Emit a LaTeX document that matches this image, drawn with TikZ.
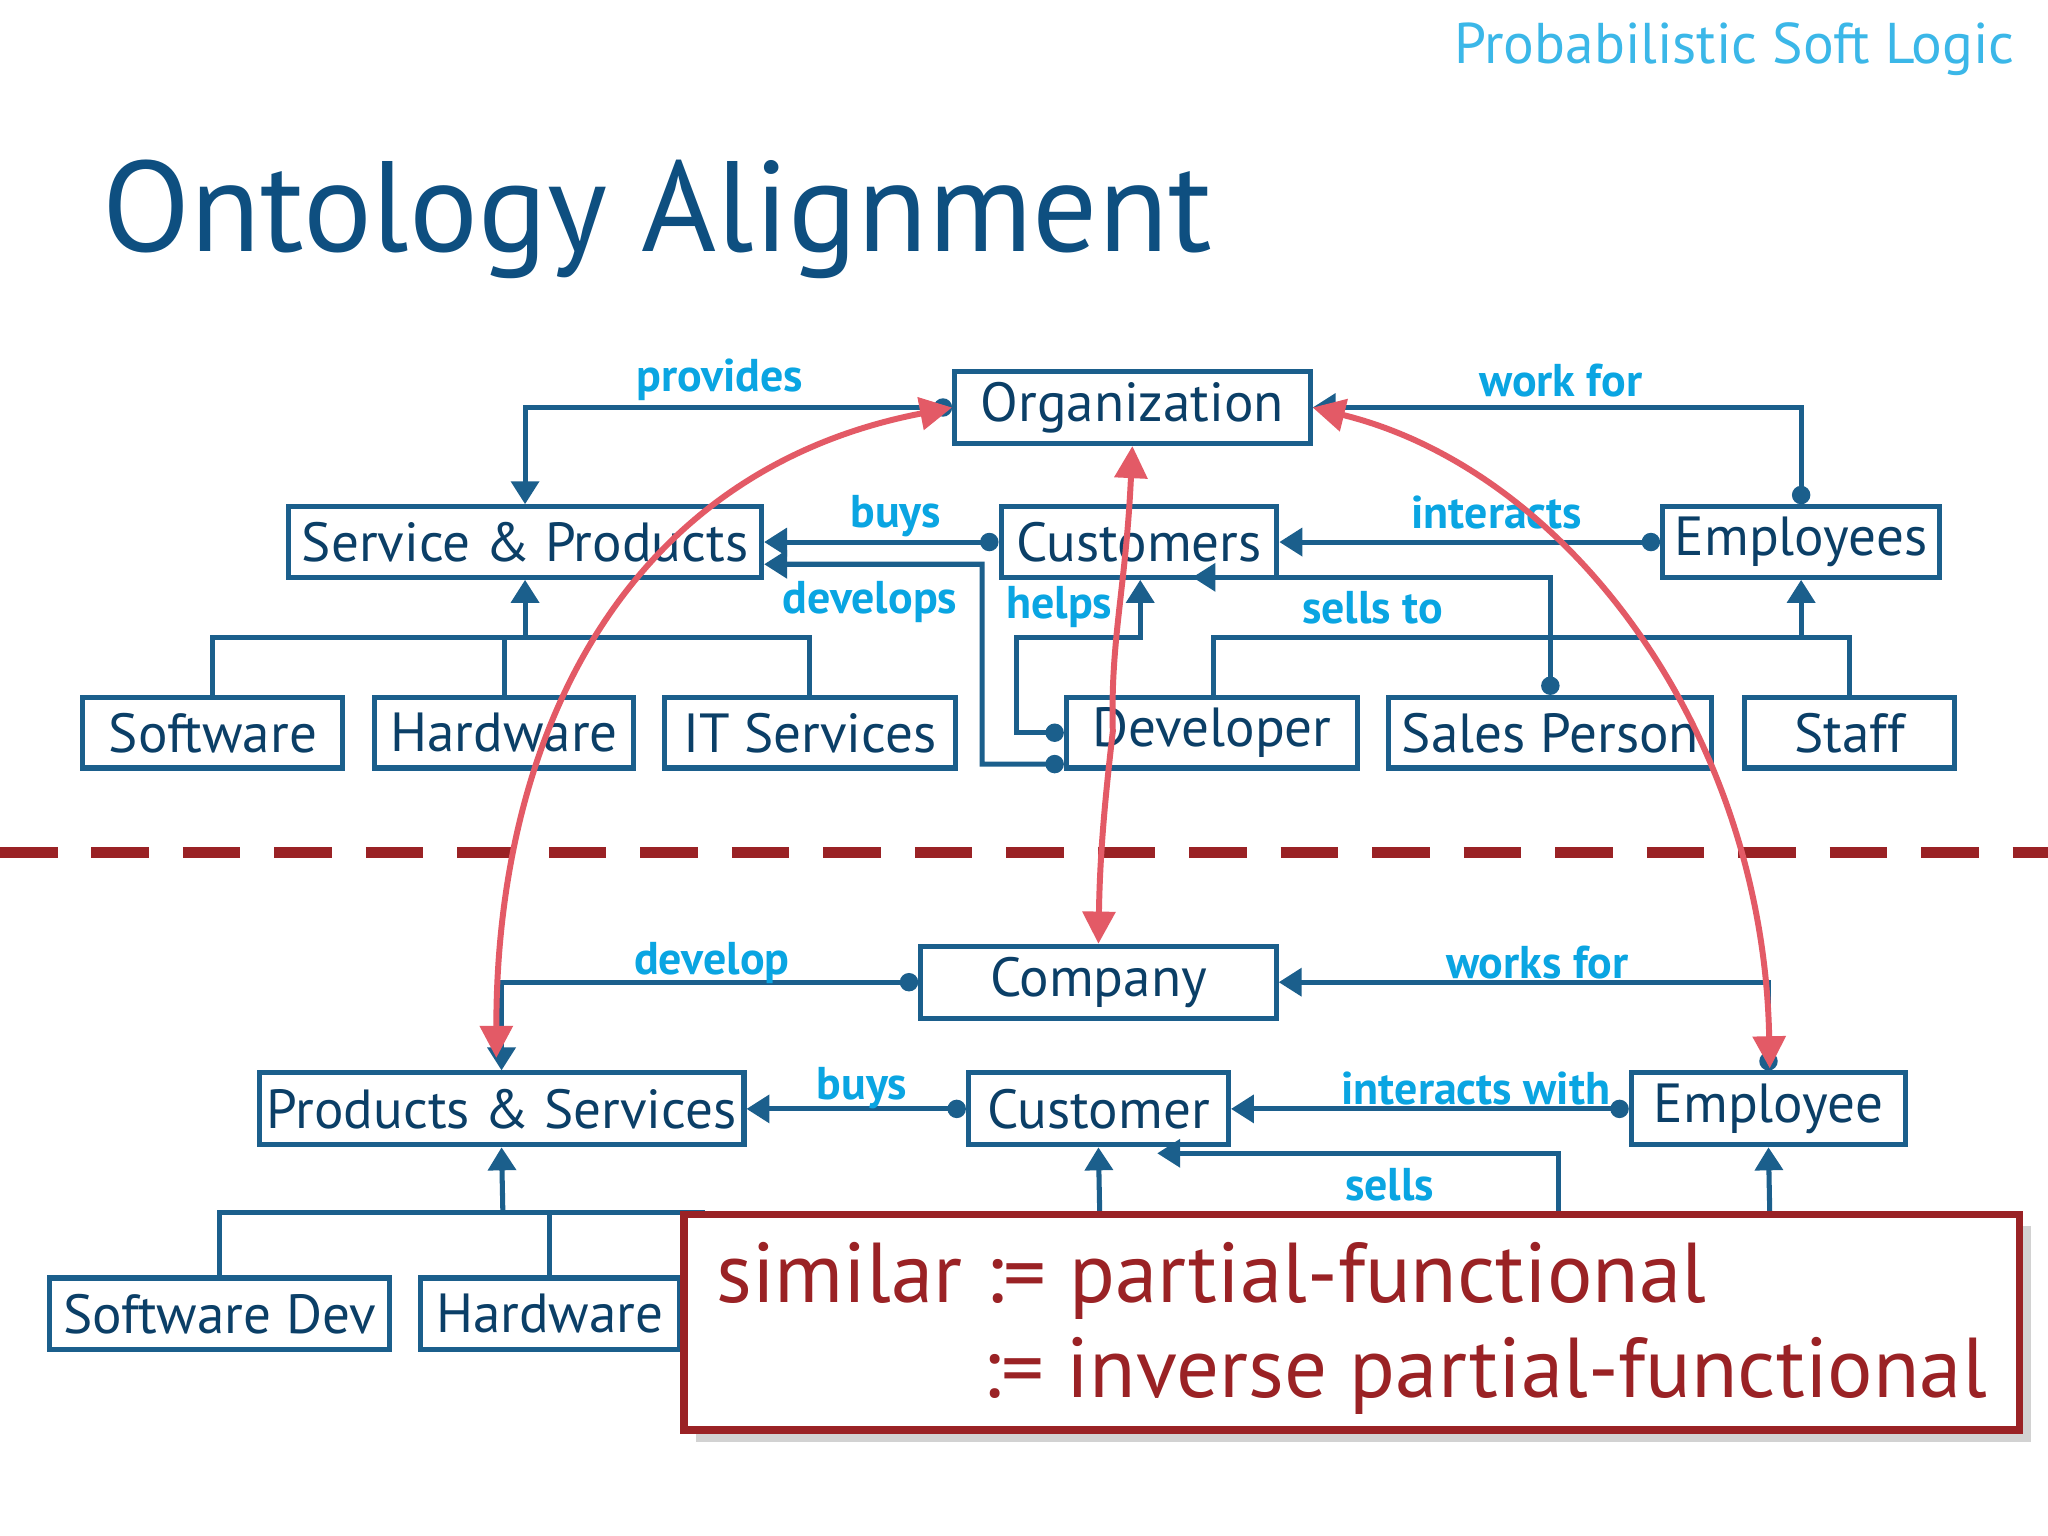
\documentclass[tikz,border=0pt]{standalone}
\usepackage{fontspec}
\setmainfont{PT Sans}
\usetikzlibrary{arrows.meta, shadows}

\definecolor{linkblue}{HTML}{1B5F8C}
\definecolor{labelcyan}{HTML}{0AA5E2}
\definecolor{titleblue}{HTML}{0E4F80}
\definecolor{curvered}{HTML}{E35A66}
\definecolor{boxred}{HTML}{9A2225}

\tikzset{
    concept/.style={draw=linkblue, line width=1.1pt, rectangle, inner sep=0pt,
        font=\fontsize{12}{14}\selectfont, text=titleblue!80!black},
    relation/.style={linkblue, line width=1.1pt, {Circle[length=4pt]}-{Triangle[length=5pt,width=6pt]}},
    branch/.style={linkblue, line width=1.1pt, -{Triangle[length=5pt,width=6pt]}},
    stem/.style={linkblue, line width=1.1pt},
    rellabel/.style={text=labelcyan, font=\fontsize{10}{12}\selectfont\bfseries},
    match/.style={curvered, line width=1.3pt, {Triangle[length=7pt,width=7pt]}-{Triangle[length=7pt,width=7pt]}}
}

\begin{document}
\begin{tikzpicture}[x=0.01cm, y=-0.01cm]
    \useasboundingbox (0,0) rectangle (1568,1176);
    \fill[white] (0,0) rectangle (1568,1176);

    % headings
    \node[anchor=east, text=labelcyan!80!white, font=\fontsize{12.5}{14}\selectfont] (psl) at (1555,38) {Probabilistic Soft Logic};
    \node[anchor=west, text=titleblue, font=\fontsize{28}{32}\selectfont] (title) at (66,168) {Ontology Alignment};

    % upper ontology
    \node[concept, minimum width=2.72cm, minimum height=0.55cm] (org) at (867,312) {Organization};
    \node[concept, minimum width=3.62cm, minimum height=0.54cm] (servprod) at (402,415) {Service \& Products};
    \node[concept, minimum width=2.11cm, minimum height=0.54cm] (customers) at (872,415) {Customers};
    \node[concept, minimum width=2.12cm, minimum height=0.54cm] (employees) at (1379,415) {Employees};
    \node[concept, minimum width=1.99cm, minimum height=0.54cm] (software) at (163,561) {Software};
    \node[concept, minimum width=1.98cm, minimum height=0.54cm] (hardware) at (386,561) {Hardware};
    \node[concept, minimum width=2.23cm, minimum height=0.54cm] (itserv) at (620,561) {IT Services};
    \node[concept, minimum width=2.23cm, minimum height=0.54cm] (developer) at (928,561) {Developer};
    \node[concept, minimum width=2.47cm, minimum height=0.54cm] (sales) at (1187,561) {Sales Person};
    \node[concept, minimum width=1.61cm, minimum height=0.54cm] (staff) at (1416,561) {Staff};

    \draw[relation] (org.west) -| (servprod.north);
    \draw[relation] (employees.north) |- (org.east);
    \draw[relation] (customers.west) -- (servprod.east);
    \draw[relation] (employees.west) -- (customers.east);
    \draw[relation] ([yshift=-0.24cm]developer.west) -- (752,585) |- ([yshift=-0.17cm]servprod.east);
    \draw[relation] (developer.west) -- (778,561) |- (873,488) -- ([xshift=0.01cm]customers.south);
    \draw[relation] (sales.north) -- (1187,442) -- (913,442);
    \coordinate (sptree) at (402,488);
    \draw[branch] (sptree) -- (servprod.south);
    \draw[stem] (software.north) |- (itserv.north |- sptree) -- (itserv.north);
    \draw[stem] (hardware.north) -- (hardware.north |- sptree);
    \coordinate (emtree) at (1379,488);
    \draw[branch] (emtree) -- (employees.south);
    \draw[stem] (developer.north -| 929,0) |- (staff.north |- emtree) -- (staff.north);

    \node[rellabel] (lprov) at (551,291) {provides};
    \node[rellabel] (lwork) at (1195,291) {work for};
    \node[rellabel] (lbuys) at (686,395) {buys};
    \node[rellabel] (linter) at (1146,392) {interacts};
    \node[rellabel] (ldev) at (666,461) {develops};
    \node[rellabel] (lhelp) at (811,465) {helps};
    \node[rellabel] (lsell) at (1051,465) {sells to};

    % separator
    \draw[boxred, line width=2.4pt, dash pattern=on 0.44cm off 0.26cm] (0,653) -- (1568,653);

    % lower ontology
    \node[concept, minimum width=2.72cm, minimum height=0.55cm] (company) at (841,752) {Company};
    \node[concept, minimum width=3.71cm, minimum height=0.55cm] (prodserv) at (384,849) {Products \& Services};
    \node[concept, minimum width=1.99cm, minimum height=0.55cm] (customer) at (841,849) {Customer};
    \node[concept, minimum width=2.10cm, minimum height=0.55cm] (employee) at (1354,849) {Employee};
    \node[concept, minimum width=2.60cm, minimum height=0.55cm] (softdev) at (168,1006) {Software Dev};
    \node[concept, minimum width=1.98cm, minimum height=0.55cm] (hardware2) at (421,1006) {Hardware};

    \draw[relation] (company.west) -| (prodserv.north);
    \draw[relation] (employee.north) |- (company.east);
    \draw[relation] (customer.west) -- (prodserv.east);
    \draw[relation] (employee.west) -- (customer.east);
    \coordinate (sellsend) at (1193,930);
    \draw[branch] (sellsend) |- (886,883);
    \coordinate (custfoot) at (842,930);
    \draw[branch] (custfoot) -- (customer.south);
    \coordinate (empfoot) at (1355,930);
    \draw[branch] (empfoot) -- (employee.south);
    \coordinate (pstree) at (385,928);
    \draw[branch] (pstree) -- (prodserv.south);
    \draw[stem] (softdev.north) |- (540,928);
    \draw[stem] (hardware2.north) -- (hardware2.north |- pstree);

    \node[rellabel] (ldevelop) at (545,737) {develop};
    \node[rellabel] (lworks) at (1177,737) {works for};
    \node[rellabel] (lbuys2) at (660,833) {buys};
    \node[rellabel] (linter2) at (1130,833) {interacts with};
    \node[rellabel] (lsells) at (1064,907) {sells};

    % alignment arcs
    \draw[match] (org.west) .. controls (480,360) and (380,560) .. (380,810);
    \draw[match] (org.south) .. controls (862,450) and (850,490) .. (852,560)
        .. controls (845,620) and (842,660) .. (company.north);
    \draw[match] (org.east) .. controls (1200,360) and (1350,560) .. (1355,818);

    % rule box
    \node[draw=boxred, line width=1.6pt, fill=white, drop shadow={opacity=0.35},
        minimum width=10.22cm, minimum height=1.65cm, anchor=north west] (rule) at (521,927) {};
    \node[anchor=base west, text=boxred, font=\fontsize{18.5}{21}\selectfont] (rule1) at (536,997) {similar := partial-functional};
    \node[anchor=base west, text=boxred, font=\fontsize{18.5}{21}\selectfont] (rule2) at (740,1070) {:= inverse partial-functional};
\end{tikzpicture}
\end{document}
